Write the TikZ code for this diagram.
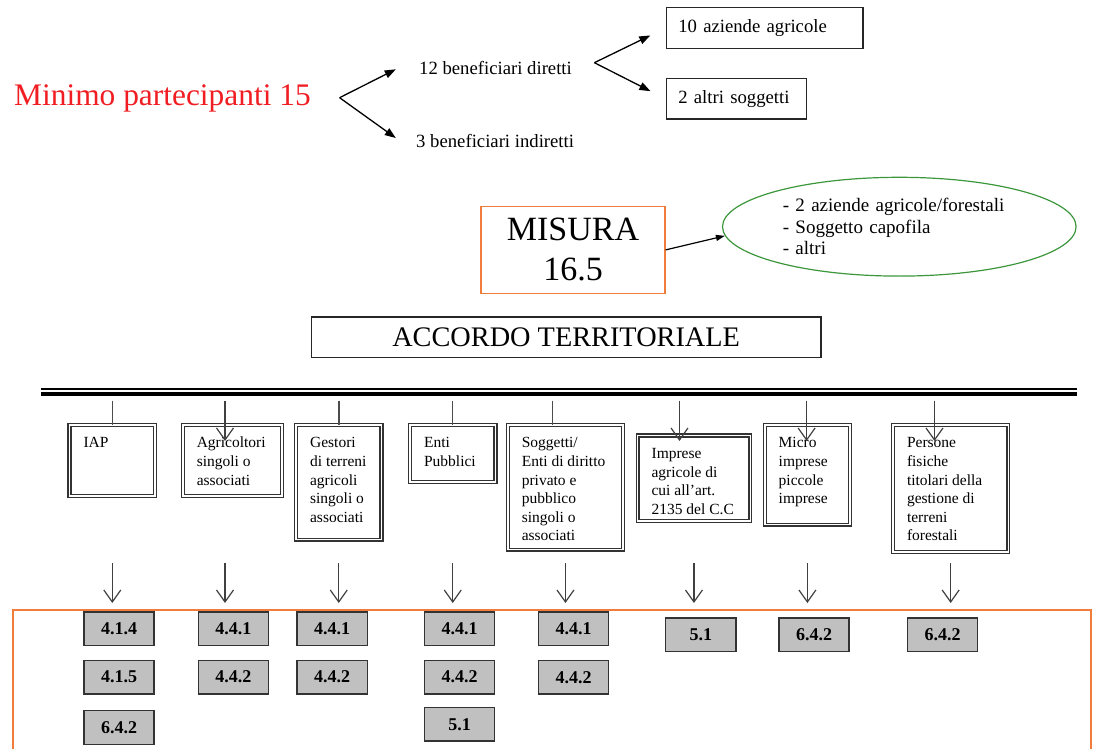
\documentclass[tikz,border=0pt]{standalone}
\usepackage{fontspec}
\setmainfont{Liberation Serif}
\usetikzlibrary{arrows.meta,positioning,shapes.geometric}
\definecolor{minred}{RGB}{240,30,35}
\definecolor{misorange}{RGB}{240,125,60}
\definecolor{ovalgreen}{RGB}{60,150,60}
\definecolor{numgray}{RGB}{192,192,192}
\tikzset{tbox/.style={draw=black!85, line width=1.5pt, align=left, inner xsep=12pt, font=\fontsize{18.7}{22}\selectfont},
	plain/.style={anchor=base west, inner sep=0pt, font=\fontsize{18.7}{22}\selectfont},
	colbox/.style={draw=black!80, line width=1.3pt, double, double distance=1.6pt, anchor=north west, inner xsep=14pt, inner ysep=10pt, outer sep=0pt, font=\fontsize{15.5}{18.6}\selectfont},
	num/.style={draw=black!80, fill=numgray, line width=1.3pt, minimum width=70.2pt, minimum height=33.7pt, inner sep=0pt, font=\fontsize{18}{20}\selectfont\bfseries},
	fork/.style={line width=1.3pt, -{Triangle[length=11pt,width=8pt]}},
	link/.style={draw=black!70, line width=1.3pt},
	vlink/.style={draw=black!75, line width=1.2pt, -{Straight Barb[length=12pt,width=17pt]}}}
\newcommand{\colcell}[3]{\parbox[t][\dimexpr#2pt-24.2pt\relax][t]{\dimexpr#1pt-32.2pt\relax}{\raggedright\strut#3}}
\begin{document}
\begin{tikzpicture}[x=1pt,y=-1pt]
		\useasboundingbox (0,0) rectangle (1095,749);
		\node[anchor=base west, inner sep=0pt, text=minred, font=\fontsize{31.4}{36}\selectfont] (minimo) at (14,106) {Minimo partecipanti 15};
		\coordinate (forkA) at (339.6,97.7);
		\coordinate (dirtip) at (395.8,69.3);
		\coordinate (indtip) at (395.8,138);
		\node[plain] (dir) at (419,74.5) {12 beneficiari diretti};
		\node[plain] (ind) at (416,148) {3 beneficiari indiretti};
		\draw[fork] (forkA) -- (dirtip);
		\draw[fork] (forkA) -- (indtip);
		\coordinate (forkB) at (594.4,62.7);
		\node[tbox, text width=172.4pt, minimum height=41.1pt] (agri10) at (764.55,28) {10 aziende agricole};
		\node[tbox, text width=115.9pt, minimum height=40.8pt] (altri2) at (736.3,98.85) {2 altri soggetti};
		\draw[fork, shorten >=17pt] (forkB) -- (agri10.west);
		\draw[fork, shorten >=17pt] (forkB) -- (altri2.west);
		\node[draw=misorange, line width=1.5pt, minimum width=183.7pt, minimum height=86.8pt, align=center, font=\fontsize{34}{40}\selectfont] (misura) at (573,249.9) {MISURA\\16.5};
		\node[ellipse, draw=ovalgreen, line width=1.2pt, minimum width=353.6pt, minimum height=98.8pt, inner sep=0pt, text width=233pt, align=left, font=\fontsize{19}{21.7}\selectfont] (oval) at (899.3,226.7) {- 2 aziende agricole/forestali\\- Soggetto capofila\\- altri};
		\draw[line width=1.2pt, -{Triangle[length=9pt,width=6pt]}] (misura.east) -- (oval.183);
		\node[draw=black!85, line width=1.5pt, minimum width=509.8pt, minimum height=40.8pt, font=\fontsize{28.3}{32}\selectfont] (accordo) at (566.15,337.15) {ACCORDO TERRITORIALE};
		\draw[line width=1.8pt] (41,389.3) -- (1077,389.3);
		\draw[line width=4.5pt] (41,393.8) -- (1077,393.8);
		\node[colbox] (iap) at (69.5,424.8) {\colcell{89.8}{75.6}{IAP}};
		\node[colbox] (agr) at (182.8,424.8) {\colcell{103.5}{75.6}{Agricoltori\\singoli o\\associati}};
		\node[colbox] (gest) at (296.1,424.8) {\colcell{89.5}{119}{Gestori\\di terreni\\agricoli\\singoli o\\associati}};
		\node[colbox] (enti) at (410.1,424.8) {\colcell{89.5}{61.3}{Enti\\Pubblici}};
		\node[colbox] (sogg) at (507.8,424.8) {\colcell{119.5}{129}{Soggetti/\\Enti di diritto\\privato e\\pubblico\\singoli o\\associati}};
		\node[colbox] (impr) at (637.6,435.4) {\colcell{116.9}{90}{Imprese\\agricole di\\cui all'art.\\2135 del C.C}};
		\node[colbox] (micro) at (764.7,424.8) {\colcell{89.6}{104}{Micro\\imprese\\piccole\\imprese}};
		\node[colbox] (pers) at (893,424.8) {\colcell{119.5}{131.3}{Persone\\fisiche\\titolari della\\gestione di\\terreni\\forestali}};
		\coordinate (t1) at (112.3,400.7);
		\coordinate (t2) at (225,400.7);
		\coordinate (t3) at (339,400.7);
		\coordinate (t4) at (452.6,400.7);
		\coordinate (t5) at (552.4,400.7);
		\coordinate (t6) at (679.5,400.7);
		\coordinate (t7) at (806.6,400.7);
		\coordinate (t8) at (934.5,400.7);
		\coordinate (vrow) at (0,441);
		\draw[link] (t1) -- (t1 |- iap.north);
		\draw[link] (t3) -- (t3 |- gest.north);
		\draw[link] (t4) -- (t4 |- enti.north);
		\draw[link] (t5) -- (t5 |- sogg.north);
		\draw[vlink] (t2) -- (t2 |- vrow);
		\draw[vlink] (t6) -- (t6 |- vrow);
		\draw[vlink] (t7) -- (t7 |- vrow);
		\draw[vlink] (t8) -- (t8 |- vrow);
		\coordinate (arow) at (0,563);
		\coordinate (atip) at (0,603);
		\foreach \n in {iap,gest,enti,sogg,impr,micro,pers}
			\draw[vlink] (\n.center |- arow) -- (\n.center |- atip);
		\draw[vlink] (t2 |- arow) -- (t2 |- atip);
		\draw[misorange, line width=1.5pt] (13,752) -- (13,610) -- (1091,610) -- (1091,752);
		\foreach \x/\y/\t/\n in {119/628.7/4.1.4/n11, 119/677/4.1.5/n12, 119/727.5/6.4.2/n13, 233.3/628.7/4.4.1/n21, 233.3/677/4.4.2/n22, 332.1/628.7/4.4.1/n31, 332.1/677/4.4.2/n32, 459.6/628.7/4.4.1/n41, 459.6/677/4.4.2/n42, 459.6/724.2/5.1/n43, 573.7/628.7/4.4.1/n51, 573.7/677.2/4.4.2/n52, 700.9/634.7/5.1/n61, 814/634.7/6.4.2/n71, 942.5/634.7/6.4.2/n81}
			\node[num] (\n) at (\x,\y) {\t};
\end{tikzpicture}
\end{document}
